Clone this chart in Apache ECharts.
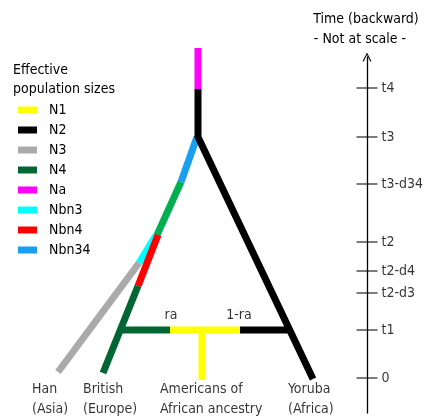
<!DOCTYPE html>
<html>
<head>
<meta charset="utf-8">
<script src="https://cdn.jsdelivr.net/npm/echarts@6/dist/echarts.min.js"></script>
<style>
  html, body {margin: 0; padding: 0; background: #fff;}
  #chart {width: 424px; height: 418px;}
</style>
</head>
<body>
<div id="chart"></div>
<script>
// population size names (legend order)
const popNames = ['N1', 'N2', 'N3', 'N4', 'Na', 'Nbn3', 'Nbn4', 'Nbn34'];

// tree branches: x position, time value (0 = present)
const naBranch = [[198, 330], [198, 289]];
const n2Branch = [[198, 289], [198, 241], [313, -1]];
const nbn34Branch = [[197, 241], [181, 196]];
const n34Branch = [[181, 196], [157, 143]];
const nbn3Branch = [[156, 143], [139, 115]];
const n3Branch = [[139, 115], [58, 6]];
const nbn4Branch = [[158, 143], [138, 92]];
const n4Branch = [[138, 92], [103, 5]];
const n4Admix = [[121, 48], [170, 48]];
const n1Admix = [[170, 48], [240, 48]];
const n2Admix = [[240, 48], [291, 48]];
const n1Branch = [[202, 48], [202, -2]];

// time axis ticks
const timeLabels = ['t4', 't3', 't3-d34', 't2', 't2-d4', 't2-d3', 't1', '0'];
const timeValues = [290, 241, 194, 136, 107, 85, 48, 0];

// admixture proportions
const admixLabels = ['ra', '1-ra'];

// sampled populations
const tipLabels = ['Han\n(Asia)', 'British\n(Europe)', 'Americans of\nAfrican ancestry', 'Yoruba\n(Africa)'];

const popColors = {
  N1: '#ffff00', N2: '#000000', N3: '#aaaaaa', N4: '#006633', Na: '#ff00ff',
  Nbn3: '#00ffff', Nbn4: '#ff0000', Nbn34: '#1a9ff0', N34: '#00b050'
};

const FONT = "'DejaVu Sans Condensed', 'DejaVu Sans', sans-serif";
const TXT = '#000';

const chart = echarts.init(document.getElementById('chart'), null, {renderer: 'canvas'});

function branch(name, data) {
  return {
    name: name,
    type: 'line',
    xAxisIndex: 0, yAxisIndex: 0,
    data: data,
    symbol: 'none',
    silent: true,
    lineStyle: {color: popColors[name], width: 7, cap: 'butt', join: 'miter'},
    itemStyle: {color: popColors[name]}
  };
}

const series = [
  branch('Nbn34', nbn34Branch),
  branch('N34', n34Branch),
  branch('Nbn3', nbn3Branch),
  branch('N3', n3Branch),
  branch('Nbn4', nbn4Branch),
  branch('N4', n4Branch),
  branch('N4', n4Admix),
  branch('N1', n1Admix),
  branch('N2', n2Admix),
  branch('N1', n1Branch),
  branch('N2', n2Branch),
  branch('Na', naBranch),
  {
    // time ticks
    type: 'scatter',
    xAxisIndex: 0, yAxisIndex: 0,
    data: timeValues.map((v, i) => ({value: [367, v], name: timeLabels[i]})),
    symbol: 'rect',
    symbolSize: [21, 1.3],
    itemStyle: {color: '#000'},
    silent: true,
    label: {
      show: true, position: 'right', distance: 4,
      formatter: p => p.name,
      color: TXT, fontSize: 14, fontFamily: FONT
    }
  },
  {
    // admixture labels
    type: 'scatter',
    xAxisIndex: 0, yAxisIndex: 0,
    data: [[171, 63], [239, 63]].map((v, i) => ({value: v, name: admixLabels[i]})),
    symbolSize: 0,
    silent: true,
    label: {show: true, position: 'inside', formatter: p => p.name, color: TXT, fontSize: 14, fontFamily: FONT}
  },
  {
    // sampled population labels
    type: 'scatter',
    xAxisIndex: 0, yAxisIndex: 0,
    data: [[32, -21], [83, -21], [160, -21], [288, -21]].map((v, i) => ({value: v, name: tipLabels[i]})),
    symbolSize: 0,
    silent: true,
    label: {
      show: true, position: 'inside', align: 'left', formatter: p => p.name,
      color: TXT, fontSize: 14, lineHeight: 20, fontFamily: FONT
    }
  }
];

const option = {
  animation: false,
  backgroundColor: '#fff',
  title: {
    text: 'Effective\npopulation sizes',
    left: 13, top: 61, padding: 0,
    textStyle: {fontSize: 14, fontWeight: 'normal', color: TXT, lineHeight: 19, fontFamily: FONT}
  },
  legend: {
    data: popNames,
    orient: 'vertical',
    left: 18, top: 102, padding: 0,
    icon: 'rect',
    itemWidth: 19, itemHeight: 7,
    itemGap: 4,
    selectedMode: false,
    textStyle: {fontSize: 14, color: TXT, lineHeight: 16, padding: [0, 0, 0, 7], fontFamily: FONT}
  },
  graphic: [
    {type: 'text', style: {text: 'Time (backward)', x: 366, y: 19, align: 'center', verticalAlign: 'middle', font: '14px ' + FONT, fill: TXT}},
    {type: 'text', style: {text: '- Not at scale -', x: 360, y: 39, align: 'center', verticalAlign: 'middle', font: '14px ' + FONT, fill: TXT}}
  ],
  grid: [
    {left: 0, right: 0, top: 0, bottom: 0},
    {left: 367, right: 56, top: 57, bottom: 5}
  ],
  xAxis: [
    {type: 'value', gridIndex: 0, min: 0, max: 424, show: false},
    {type: 'value', gridIndex: 1, min: 0, max: 1, show: false}
  ],
  yAxis: [
    {type: 'value', gridIndex: 0, min: -40, max: 378, show: false},
    {
      type: 'value', gridIndex: 1, min: -35, max: 321, position: 'left',
      axisLine: {
        show: true, symbol: ['none', 'path://M0,10 L5,0 L10,10 L8.6,10 L5,2.6 L1.4,10 Z'],
        symbolSize: [9, 9], symbolOffset: [0, 0],
        lineStyle: {color: '#000', width: 1.3}
      },
      axisTick: {show: false}, axisLabel: {show: false}, splitLine: {show: false}
    }
  ],
  series: series
};

chart.setOption(option);
</script>
</body>
</html>
